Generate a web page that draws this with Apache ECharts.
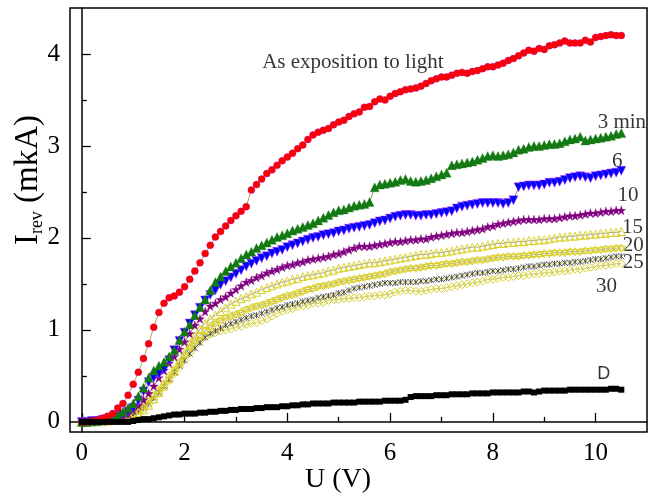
<!DOCTYPE html>
<html>
<head>
<meta charset="utf-8">
<script src="https://cdn.jsdelivr.net/npm/echarts@6/dist/echarts.min.js"></script>
<style>html,body{margin:0;padding:0;background:#fff}#c{width:658px;height:499px}</style>
</head>
<body>
<div id="c"></div>
<script>
// Voltage U (V)
const U = [
0.0,0.1,0.2,0.3,0.4,0.5,0.6,0.7,0.8,0.9,
1.0,1.1,1.2,1.3,1.4,1.5,1.6,1.7,1.8,1.9,
2.0,2.1,2.2,2.3,2.4,2.5,2.6,2.7,2.8,2.9,
3.0,3.1,3.2,3.3,3.4,3.5,3.6,3.7,3.8,3.9,
4.0,4.1,4.2,4.3,4.4,4.5,4.6,4.7,4.8,4.9,
5.0,5.1,5.2,5.3,5.4,5.5,5.6,5.7,5.8,5.9,
6.0,6.1,6.2,6.3,6.4,6.5,6.6,6.7,6.8,6.9,
7.0,7.1,7.2,7.3,7.4,7.5,7.6,7.7,7.8,7.9,
8.0,8.1,8.2,8.3,8.4,8.5,8.6,8.7,8.8,8.9,
9.0,9.1,9.2,9.3,9.4,9.5,9.6,9.7,9.8,9.9,
10.0,10.1,10.2,10.3,10.4,10.5];

// I_rev (mkA) — as exposition to light
const light = [
0.00,0.00,0.01,0.02,0.04,0.06,0.09,0.15,0.20,0.29,
0.41,0.54,0.69,0.85,1.03,1.19,1.29,1.35,1.37,1.41,
1.47,1.55,1.64,1.73,1.83,1.92,2.01,2.07,2.13,2.19,
2.24,2.29,2.34,2.52,2.58,2.64,2.70,2.74,2.79,2.84,
2.88,2.92,2.97,3.01,3.07,3.12,3.15,3.17,3.19,3.23,
3.26,3.28,3.32,3.35,3.37,3.42,3.43,3.48,3.51,3.50,
3.54,3.57,3.59,3.61,3.62,3.63,3.65,3.68,3.71,3.73,
3.75,3.75,3.77,3.79,3.80,3.79,3.81,3.82,3.84,3.86,
3.86,3.88,3.90,3.93,3.95,3.98,4.01,4.04,4.03,4.06,
4.05,4.09,4.10,4.12,4.14,4.12,4.12,4.12,4.15,4.13,
4.18,4.19,4.20,4.21,4.20,4.20];

const m3 = [
0.00,0.00,0.01,0.01,0.02,0.03,0.05,0.08,0.11,0.15,
0.20,0.28,0.37,0.48,0.56,0.61,0.65,0.71,0.78,0.89,
0.98,1.06,1.16,1.25,1.33,1.43,1.52,1.58,1.64,1.69,
1.73,1.78,1.82,1.85,1.89,1.92,1.95,1.98,2.01,2.03,
2.05,2.08,2.10,2.12,2.14,2.16,2.19,2.22,2.25,2.28,
2.30,2.31,2.33,2.35,2.36,2.37,2.39,2.55,2.58,2.59,
2.60,2.61,2.63,2.64,2.62,2.61,2.62,2.63,2.65,2.67,
2.69,2.71,2.79,2.80,2.81,2.82,2.83,2.85,2.87,2.89,
2.90,2.89,2.90,2.91,2.93,2.96,2.97,2.99,3.00,3.00,
3.01,3.02,3.02,3.03,3.05,3.07,3.08,3.10,3.06,3.07,
3.08,3.09,3.10,3.11,3.13,3.14];

const m6 = [
0.00,0.00,0.01,0.01,0.02,0.03,0.04,0.06,0.08,0.11,
0.15,0.23,0.33,0.43,0.48,0.52,0.57,0.67,0.78,0.88,
0.97,1.07,1.16,1.24,1.32,1.38,1.43,1.49,1.53,1.57,
1.61,1.65,1.69,1.72,1.75,1.78,1.80,1.83,1.85,1.87,
1.90,1.92,1.94,1.96,1.98,2.00,2.01,2.03,2.04,2.05,
2.07,2.08,2.10,2.11,2.12,2.13,2.14,2.16,2.18,2.19,
2.21,2.23,2.24,2.25,2.25,2.24,2.24,2.25,2.25,2.26,
2.27,2.28,2.29,2.32,2.34,2.35,2.36,2.37,2.38,2.38,
2.38,2.38,2.37,2.38,2.41,2.55,2.56,2.57,2.57,2.57,
2.58,2.60,2.60,2.61,2.63,2.65,2.66,2.67,2.66,2.65,
2.67,2.68,2.69,2.70,2.71,2.73];

const m10 = [
0.00,0.00,0.00,0.01,0.01,0.02,0.03,0.04,0.06,0.09,
0.13,0.18,0.24,0.31,0.39,0.48,0.56,0.64,0.71,0.79,
0.87,0.96,1.05,1.12,1.20,1.26,1.29,1.33,1.36,1.40,
1.44,1.48,1.52,1.54,1.57,1.59,1.62,1.64,1.66,1.68,
1.70,1.71,1.73,1.74,1.76,1.77,1.78,1.79,1.80,1.82,
1.83,1.85,1.87,1.89,1.91,1.91,1.91,1.92,1.93,1.94,
1.95,1.96,1.96,1.97,1.98,1.98,1.99,1.99,2.01,2.02,
2.03,2.04,2.05,2.06,2.06,2.07,2.08,2.09,2.10,2.12,
2.13,2.15,2.16,2.17,2.18,2.19,2.20,2.20,2.20,2.20,
2.21,2.21,2.21,2.22,2.23,2.24,2.24,2.25,2.26,2.27,
2.27,2.28,2.29,2.29,2.30,2.30];

const m15 = [
0.00,0.00,0.00,0.00,0.01,0.01,0.02,0.03,0.04,0.06,
0.08,0.10,0.13,0.18,0.25,0.32,0.39,0.47,0.55,0.65,
0.75,0.85,0.93,1.01,1.07,1.12,1.16,1.20,1.24,1.28,
1.31,1.34,1.36,1.39,1.41,1.44,1.46,1.48,1.50,1.52,
1.53,1.55,1.56,1.58,1.59,1.60,1.61,1.62,1.64,1.65,
1.67,1.68,1.69,1.70,1.71,1.72,1.73,1.73,1.74,1.75,
1.76,1.77,1.78,1.79,1.80,1.81,1.82,1.82,1.83,1.84,
1.84,1.85,1.86,1.87,1.88,1.89,1.90,1.90,1.91,1.92,
1.93,1.94,1.94,1.95,1.95,1.96,1.96,1.97,1.97,1.98,
1.98,1.99,2.00,2.01,2.01,2.02,2.02,2.03,2.03,2.04,
2.04,2.05,2.05,2.06,2.06,2.07];

const m20 = [
0.00,0.00,0.00,0.00,0.00,0.01,0.01,0.02,0.03,0.05,
0.08,0.12,0.17,0.23,0.29,0.35,0.42,0.50,0.57,0.65,
0.72,0.81,0.88,0.94,0.99,1.03,1.07,1.10,1.13,1.15,
1.17,1.19,1.22,1.24,1.26,1.27,1.29,1.31,1.33,1.35,
1.37,1.38,1.40,1.42,1.44,1.45,1.47,1.48,1.49,1.50,
1.52,1.53,1.54,1.55,1.56,1.57,1.58,1.59,1.60,1.61,
1.63,1.64,1.65,1.66,1.67,1.67,1.68,1.69,1.70,1.70,
1.71,1.72,1.72,1.73,1.74,1.74,1.75,1.76,1.76,1.77,
1.78,1.79,1.79,1.80,1.80,1.80,1.81,1.81,1.82,1.82,
1.83,1.83,1.84,1.84,1.84,1.85,1.85,1.85,1.86,1.86,
1.87,1.87,1.88,1.88,1.89,1.89];

const m25 = [
0.00,0.00,0.00,0.00,0.00,0.01,0.01,0.02,0.03,0.05,
0.07,0.11,0.15,0.20,0.26,0.32,0.39,0.46,0.54,0.61,
0.67,0.74,0.80,0.86,0.92,0.96,0.99,1.02,1.05,1.07,
1.09,1.11,1.13,1.15,1.16,1.18,1.20,1.22,1.24,1.25,
1.27,1.28,1.29,1.31,1.32,1.33,1.35,1.36,1.37,1.38,
1.40,1.41,1.43,1.45,1.46,1.47,1.48,1.49,1.50,1.51,
1.51,1.51,1.52,1.52,1.52,1.52,1.53,1.53,1.54,1.55,
1.55,1.56,1.57,1.58,1.59,1.60,1.61,1.62,1.62,1.63,
1.64,1.64,1.65,1.66,1.66,1.67,1.68,1.69,1.69,1.70,
1.71,1.71,1.72,1.72,1.73,1.73,1.74,1.74,1.75,1.76,
1.77,1.77,1.78,1.79,1.80,1.80];

const m30 = [
0.00,0.00,0.00,0.00,0.00,0.00,0.01,0.01,0.02,0.03,
0.05,0.09,0.14,0.19,0.24,0.31,0.38,0.45,0.52,0.59,
0.67,0.75,0.82,0.88,0.92,0.95,0.97,0.99,1.00,1.01,
1.03,1.04,1.06,1.07,1.08,1.10,1.12,1.15,1.18,1.20,
1.22,1.23,1.25,1.26,1.27,1.29,1.29,1.30,1.32,1.33,
1.33,1.34,1.34,1.35,1.35,1.36,1.37,1.37,1.38,1.38,
1.39,1.41,1.42,1.43,1.43,1.42,1.42,1.43,1.44,1.45,
1.45,1.46,1.47,1.48,1.49,1.50,1.51,1.52,1.53,1.55,
1.55,1.56,1.57,1.57,1.58,1.59,1.59,1.60,1.61,1.61,
1.62,1.62,1.63,1.64,1.64,1.65,1.66,1.66,1.67,1.68,
1.69,1.70,1.70,1.71,1.72,1.72];

const dark = [
0.00,0.00,0.00,0.00,0.00,0.00,0.00,0.00,0.00,0.00,
0.01,0.02,0.03,0.03,0.04,0.05,0.06,0.07,0.08,0.08,
0.09,0.09,0.09,0.10,0.10,0.11,0.11,0.12,0.12,0.13,
0.13,0.14,0.14,0.14,0.15,0.15,0.16,0.16,0.16,0.17,
0.17,0.18,0.18,0.19,0.19,0.20,0.20,0.20,0.20,0.21,
0.21,0.21,0.21,0.21,0.22,0.22,0.22,0.22,0.22,0.23,
0.23,0.23,0.23,0.24,0.27,0.28,0.28,0.28,0.28,0.29,
0.29,0.29,0.30,0.30,0.30,0.30,0.31,0.31,0.31,0.31,
0.32,0.32,0.32,0.32,0.32,0.32,0.33,0.33,0.32,0.33,
0.34,0.34,0.34,0.34,0.34,0.35,0.35,0.35,0.35,0.35,
0.35,0.35,0.35,0.36,0.36,0.35];

// tick values
const xMajor = [0, 2, 4, 6, 8, 10];
const xMinor = [1, 3, 5, 7, 9];
const yMajor = [0, 1, 2, 3, 4];
const yMinor = [0.5, 1.5, 2.5, 3.5];

// curve annotations
const annText = ['As exposition to light', '3 min', '6', '10', '15', '20', '25', '30', 'D'];
const annU    = [3.51, 10.04, 10.42, 10.63, 10.72, 10.73, 10.73, 10.21, 10.16];
const annI    = [3.91, 3.26, 2.83, 2.46, 2.11, 1.92, 1.73, 1.47, 0.52];

const pairs = ys => U.map((u, i) => [u, ys[i]]);

const SERIF = '"Liberation Serif", "Times New Roman", serif';
const YEL = '#d9d02a';
const STAR = 'path://M50,0L61,35L98,35L68,57L79,91L50,70L21,91L32,57L2,35L39,35Z';
const HEX = 'path://M50,0L93,75L7,75ZM50,100L7,25L93,25Z';
const AST = 'path://M0,0L100,100M100,0L0,100M50,0L50,100';

function ser(name, ys, symbol, size, fill, stroke, bw, lineColor, rotate) {
  return {
    name, type: 'line', data: pairs(ys), symbol, symbolSize: size,
    symbolRotate: rotate || 0, showSymbol: true, silent: true,
    itemStyle: { color: fill, borderColor: stroke, borderWidth: bw },
    lineStyle: { color: lineColor, width: 0.7 },
    emphasis: { disabled: true }
  };
}

const chart = echarts.init(document.getElementById('c'), null, { renderer: 'canvas' });

const axisLineStyle = { color: '#000', width: 1.5 };

chart.setOption({
  animation: false,
  backgroundColor: '#fff',
  grid: { left: 70, right: 11, top: 8, bottom: 67, show: true, borderColor: '#000', borderWidth: 1.5, backgroundColor: 'transparent' },
  xAxis: [
    { type: 'value', min: -0.23, max: 11.0, position: 'bottom',
      axisLine: { show: true, lineStyle: axisLineStyle },
      axisTick: { show: true, inside: true, length: 9, customValues: xMajor, lineStyle: { color: '#000', width: 1.3 } },
      axisLabel: { show: true, customValues: xMajor, margin: 9, color: '#000', fontFamily: SERIF, fontSize: 25 },
      splitLine: { show: false } },
    { type: 'value', min: -0.23, max: 11.0, position: 'bottom', offset: 0,
      axisLine: { show: false },
      axisTick: { show: true, inside: true, length: 5, customValues: xMinor, lineStyle: { color: '#000', width: 1.3 } },
      axisLabel: { show: false }, splitLine: { show: false } }
  ],
  yAxis: [
    { type: 'value', min: -0.11, max: 4.5, position: 'left',
      axisLine: { show: true, lineStyle: axisLineStyle },
      axisTick: { show: true, inside: true, length: 9, customValues: yMajor, lineStyle: { color: '#000', width: 1.3 } },
      axisLabel: { show: true, customValues: yMajor, margin: 10, color: '#000', fontFamily: SERIF, fontSize: 25 },
      splitLine: { show: false } },
    { type: 'value', min: -0.11, max: 4.5, position: 'left', offset: 0,
      axisLine: { show: false },
      axisTick: { show: true, inside: true, length: 5, customValues: yMinor, lineStyle: { color: '#000', width: 1.3 } },
      axisLabel: { show: false }, splitLine: { show: false } }
  ],
  graphic: [
    { type: 'text', x: 338, y: 480, style: { text: 'U (V)', font: '28px ' + SERIF, fill: '#000', textAlign: 'center', textVerticalAlign: 'middle' } },
    { type: 'text', x: 28, y: 180, rotation: Math.PI / 2,
      style: { text: '{a|I}{b|rev}{a| (mkA)}', textAlign: 'center', textVerticalAlign: 'middle', fill: '#000',
        rich: { a: { fontFamily: SERIF, fontSize: 33, fill: '#000', verticalAlign: 'middle' },
                b: { fontFamily: SERIF, fontSize: 18, fill: '#000', padding: [18, 0, 0, 0], verticalAlign: 'middle' } } } }
  ],
  series: [
    ser('30', m30, 'diamond', 8, 'rgba(0,0,0,0)', YEL, 1, '#b8b040'),
    ser('25', m25, AST, 6, 'rgba(0,0,0,0)', '#333', 0.8, YEL),
    ser('20', m20, HEX, 8, 'rgba(0,0,0,0)', YEL, 1, '#8a8650'),
    ser('15', m15, 'triangle', 8, 'rgba(0,0,0,0)', YEL, 1, '#777'),
    ser('10', m10, STAR, 9, '#800080', '#800080', 0.3, '#6d4060'),
    ser('6', m6, 'triangle', 9, '#0000ff', '#c040ff', 0.5, '#6a6030', 180),
    ser('3', m3, 'triangle', 9, '#137a13', '#137a13', 0.3, '#6a6030'),
    ser('light', light, 'circle', 7, '#ff0000', '#b000a0', 0.4, '#8a7a30'),
    ser('D', dark, 'rect', 6, '#000', '#000', 0, '#000'),
    { name: 'ann', type: 'scatter', silent: true, symbolSize: 0,
      data: annText.map((t, i) => ({ value: [annU[i], annI[i]], name: t,
        label: { show: true, formatter: t, position: 'inside',
          align: i <= 1 ? 'left' : 'center', verticalAlign: 'middle',
          color: '#000', fontSize: i === 8 ? 18 : 21,
          fontFamily: i === 8 ? '"Liberation Sans", Arial, sans-serif' : SERIF } })) }
  ]
});
</script>
</body>
</html>
